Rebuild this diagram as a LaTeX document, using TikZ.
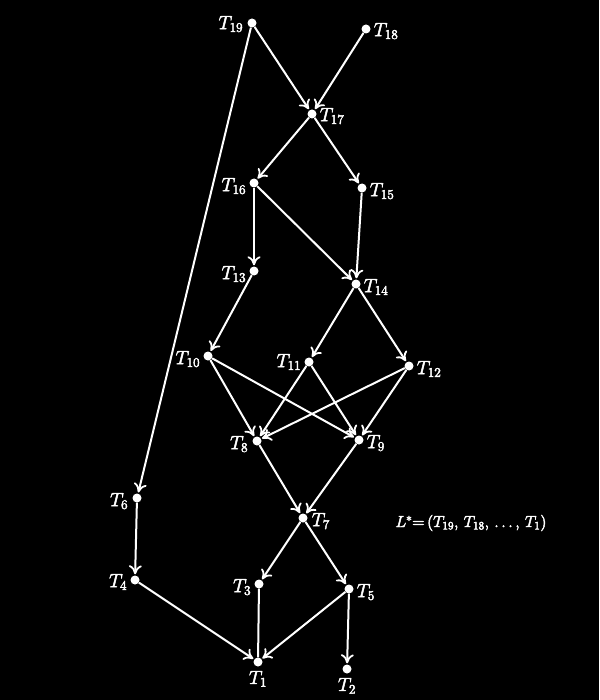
\documentclass[tikz,border=0pt]{standalone}
\usepackage{fix-cm}
\usetikzlibrary{arrows.meta}
\newcommand{\thk}[1]{\special{pdf:literal direct 2 Tr 0.45 w}#1\special{pdf:literal direct 0 Tr}}
\begin{document}
\begin{tikzpicture}[x=1pt,y=-1pt,
  dot/.style={circle,fill=white,inner sep=0pt,minimum size=9pt},
  lab/.style={text=white,font=\fontsize{19}{22}\selectfont,inner sep=1pt},
  edge/.style={draw=white,line width=2pt,-{Computer Modern Rightarrow[length=9pt,width=13pt,line width=1.8pt]},shorten >=1pt},
  plain/.style={draw=white,line width=2pt}]
\fill[black] (0,0) rectangle (599,700);
\useasboundingbox (0,0) rectangle (599,700);
\node[dot] (t19) at (252,23) {};
\node[dot] (t18) at (366,29) {};
\node[dot] (t17) at (312,114) {};
\node[dot] (t16) at (254,183) {};
\node[dot] (t15) at (362,188) {};
\node[dot] (t13) at (254,271) {};
\node[dot] (t14) at (356,284) {};
\node[dot] (t10) at (208,356) {};
\node[dot] (t11) at (309,362) {};
\node[dot] (t12) at (409,366) {};
\node[dot] (t8) at (257,441) {};
\node[dot] (t9) at (359,440) {};
\node[dot] (t7) at (303,518) {};
\node[dot] (t6) at (137,498) {};
\node[dot] (t4) at (135,580) {};
\node[dot] (t3) at (259,584) {};
\node[dot] (t5) at (349,589) {};
\node[dot] (t1) at (258,662) {};
\node[dot] (t2) at (347,669) {};
\node[lab,anchor=east] (l19) at ([xshift=-3pt,yshift=-1pt]t19.west) {\thk{$T_{19}$}};
\node[lab,anchor=west] (l18) at ([xshift=2pt,yshift=-2pt]t18.east) {\thk{$T_{18}$}};
\node[lab,anchor=west] (l17) at ([xshift=2pt,yshift=-2pt]t17.east) {\thk{$T_{17}$}};
\node[lab,anchor=east] (l16) at ([xshift=-2pt,yshift=-3pt]t16.west) {\thk{$T_{16}$}};
\node[lab,anchor=west] (l15) at ([xshift=2pt,yshift=-3pt]t15.east) {\thk{$T_{15}$}};
\node[lab,anchor=east] (l13) at ([xshift=-2pt,yshift=-3pt]t13.west) {\thk{$T_{13}$}};
\node[lab,anchor=west] (l14) at ([xshift=2pt,yshift=-3pt]t14.east) {\thk{$T_{14}$}};
\node[lab,anchor=east] (l10) at ([xshift=-2pt,yshift=-3pt]t10.west) {\thk{$T_{10}$}};
\node[lab,anchor=east] (l11) at ([xshift=-2pt,yshift=0pt]t11.west) {\thk{$T_{11}$}};
\node[lab,anchor=west] (l12) at ([xshift=2pt,yshift=-3pt]t12.east) {\thk{$T_{12}$}};
\node[lab,anchor=east] (l8) at ([xshift=-3pt,yshift=-3pt]t8.west) {\thk{$T_{8}$}};
\node[lab,anchor=west] (l9) at ([xshift=2pt,yshift=-3pt]t9.east) {\thk{$T_{9}$}};
\node[lab,anchor=west] (l7) at ([xshift=3pt,yshift=-3pt]t7.east) {\thk{$T_{7}$}};
\node[lab,anchor=east] (l6) at ([xshift=-3pt,yshift=-3pt]t6.west) {\thk{$T_{6}$}};
\node[lab,anchor=east] (l4) at ([xshift=-2pt,yshift=-2pt]t4.west) {\thk{$T_{4}$}};
\node[lab,anchor=east] (l3) at ([xshift=-2pt,yshift=-3pt]t3.west) {\thk{$T_{3}$}};
\node[lab,anchor=west] (l5) at ([xshift=2pt,yshift=-3pt]t5.east) {\thk{$T_{5}$}};
\node[lab,anchor=north] (l1) at ([yshift=-3pt]t1.south) {\thk{$T_{1}$}};
\node[lab,anchor=north] (l2) at ([yshift=-3pt]t2.south) {\thk{$T_{2}$}};
\node[lab,font=\fontsize{16}{19}\selectfont] (lstar) at (471,523) {\thk{$L^*{=}\,(T_{19},\,T_{18},\,\ldots,\,T_1)$}};
\draw[edge] (t19) -- (t17);
\draw[edge] (t18) -- (t17);
\draw[edge] (t19) -- (t6);
\draw[edge] (t17) -- (t16);
\draw[edge] (t17) -- (t15);
\draw[edge] (t16) -- (t13);
\draw[edge] (t16) -- (t14);
\draw[edge] (t15) -- (t14);
\draw[edge] (t13) -- (t10);
\draw[edge] (t14) -- (t11);
\draw[edge] (t14) -- (t12);
\draw[edge] (t10) -- (t8);
\draw[edge] (t10) -- (t9);
\draw[edge] (t11) -- (t8);
\draw[edge] (t11) -- (t9);
\draw[edge] (t12) -- (t8);
\draw[edge] (t12) -- (t9);
\draw[edge] (t8) -- (t7);
\draw[edge] (t9) -- (t7);
\draw[edge] (t6) -- (t4);
\draw[edge] (t7) -- (t3);
\draw[edge] (t7) -- (t5);
\draw[edge] (t4) -- (t1);
\draw[plain] (t3) -- (t1);
\draw[edge] (t5) -- (t1);
\draw[edge] (t5) -- (t2);
\end{tikzpicture}
\end{document}
